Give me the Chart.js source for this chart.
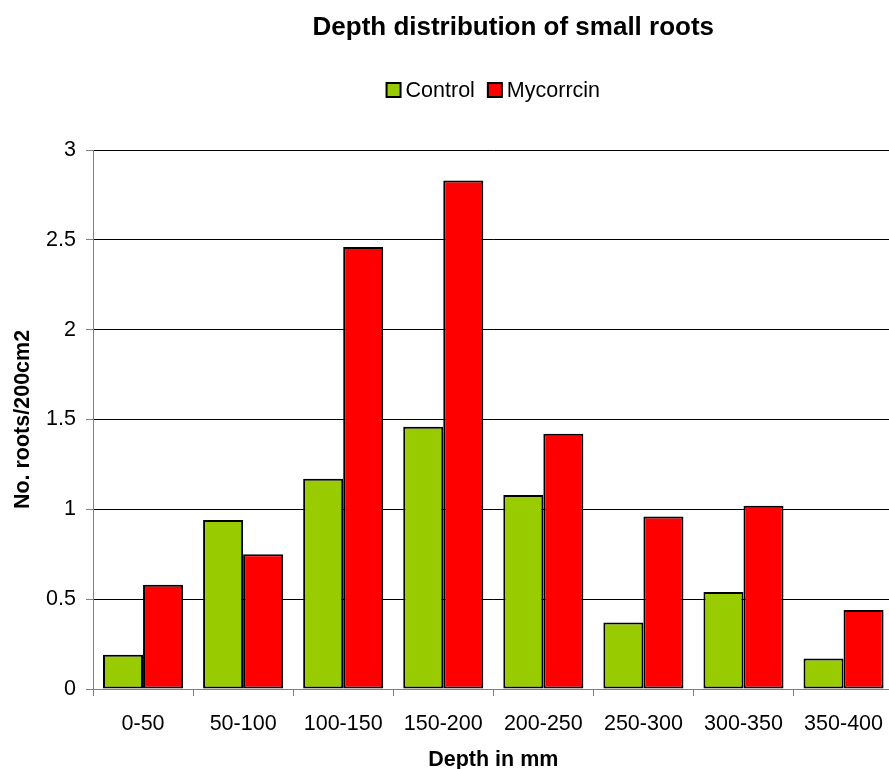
<!DOCTYPE html>
<html lang="en">
<head>
  <meta charset="UTF-8" />
  <title>Depth distribution of small roots</title>
  <script src="https://cdn.jsdelivr.net/npm/chart.js"></script>
  <style>
    html, body { margin: 0; padding: 0; background: #fff; overflow: hidden; }
    #wrap { position: relative; width: 898px; height: 769px; }
  </style>
</head>
<body>

<div id="wrap"><canvas id="rootChart"></canvas></div>

<script>
  // values
  const depths = ['0-50', '50-100', '100-150', '150-200', '200-250', '250-300', '300-350', '350-400'];
  const control = [0.19, 0.94, 1.17, 1.46, 1.08, 0.37, 0.54, 0.17];
  const mycorrcin = [0.58, 0.75, 2.46, 2.83, 1.42, 0.96, 1.02, 0.44];
  const yTicks = [0, 0.5, 1, 1.5, 2, 2.5, 3];

  const chartTitle = 'Depth distribution of small roots';
  const xTitle = 'Depth in mm';
  const yTitle = 'No. roots/200cm2';

  const FONT = '"Liberation Sans", Arial, sans-serif';

  // title and legend drawn by hand so they sit where the original puts them
  const headerPlugin = {
    id: 'header',
    afterDraw(chart) {
      const ctx = chart.ctx;
      const mid = (chart.chartArea.left + chart.chartArea.right) / 2;
      ctx.save();
      ctx.fillStyle = '#000';
      ctx.textBaseline = 'alphabetic';
      ctx.textAlign = 'center';
      ctx.font = 'bold 26px ' + FONT;
      ctx.fillText(chartTitle, mid + 20, 35);

      ctx.font = '21.5px ' + FONT;
      ctx.textAlign = 'left';
      const box = 14, gap = 5, itemGap = 13;
      const items = chart.data.datasets.map(ds => ({
        label: ds.label, color: ds.backgroundColor, w: ctx.measureText(ds.label).width
      }));
      const total = items.reduce((s, it) => s + box + gap + it.w, 0) + itemGap * (items.length - 1);
      let x = mid - total / 2;
      items.forEach(it => {
        ctx.fillStyle = it.color;
        ctx.fillRect(x, 83, box, box);
        ctx.lineWidth = 2;
        ctx.strokeStyle = '#000';
        ctx.strokeRect(x, 83, box, box);
        ctx.fillStyle = '#000';
        ctx.fillText(it.label, x + box + gap, 97);
        x += box + gap + it.w + itemGap;
      });
      ctx.restore();
    }
  };

  new Chart(document.getElementById('rootChart'), {
    type: 'bar',
    data: {
      labels: depths,
      datasets: [
        { label: 'Control', data: control, backgroundColor: '#99CC00' },
        { label: 'Mycorrcin', data: mycorrcin, backgroundColor: '#FF0000' }
      ]
    },
    options: {
      responsive: true,
      maintainAspectRatio: false,
      animation: false,
      layout: { padding: { top: 150, left: 0, right: 0, bottom: 0 } },
      datasets: {
        bar: {
          categoryPercentage: 0.8,
          barPercentage: 1.0,
          borderColor: '#000',
          borderWidth: 2,
          borderSkipped: false
        }
      },
      plugins: {
        legend: { display: false },
        title: { display: false },
        tooltip: { enabled: false }
      },
      scales: {
        x: {
          afterFit(scale) { scale.height = 80; },
          grid: {
            offset: true,
            drawOnChartArea: false,
            drawTicks: true,
            tickLength: 7,
            tickColor: '#808080'
          },
          border: { color: '#808080', width: 1 },
          ticks: {
            color: '#000',
            font: { family: FONT, size: 21.5 },
            padding: 15,
            maxRotation: 0
          },
          title: {
            display: true,
            text: xTitle,
            color: '#000',
            font: { family: FONT, size: 21.5, weight: 'bold', lineHeight: 1 },
            padding: { top: 0, bottom: -2 }
          }
        },
        y: {
          min: 0,
          max: 3,
          afterFit(scale) { scale.width = 93; },
          afterBuildTicks(scale) { scale.ticks = yTicks.map(v => ({ value: v })); },
          grid: {
            color: c => (c.tick && c.tick.value === 0) ? '#808080' : '#000',
            lineWidth: 1,
            drawTicks: true,
            tickLength: 7,
            tickColor: '#808080'
          },
          border: { color: '#808080', width: 1 },
          ticks: {
            color: '#000',
            font: { family: FONT, size: 21.5 },
            padding: 10,
            callback: v => String(v)
          },
          title: {
            display: true,
            text: yTitle,
            color: '#000',
            font: { family: FONT, size: 21.5, weight: 'bold' },
            padding: { top: 10, bottom: 0 }
          }
        }
      }
    },
    plugins: [headerPlugin]
  });
</script>

</body>
</html>
